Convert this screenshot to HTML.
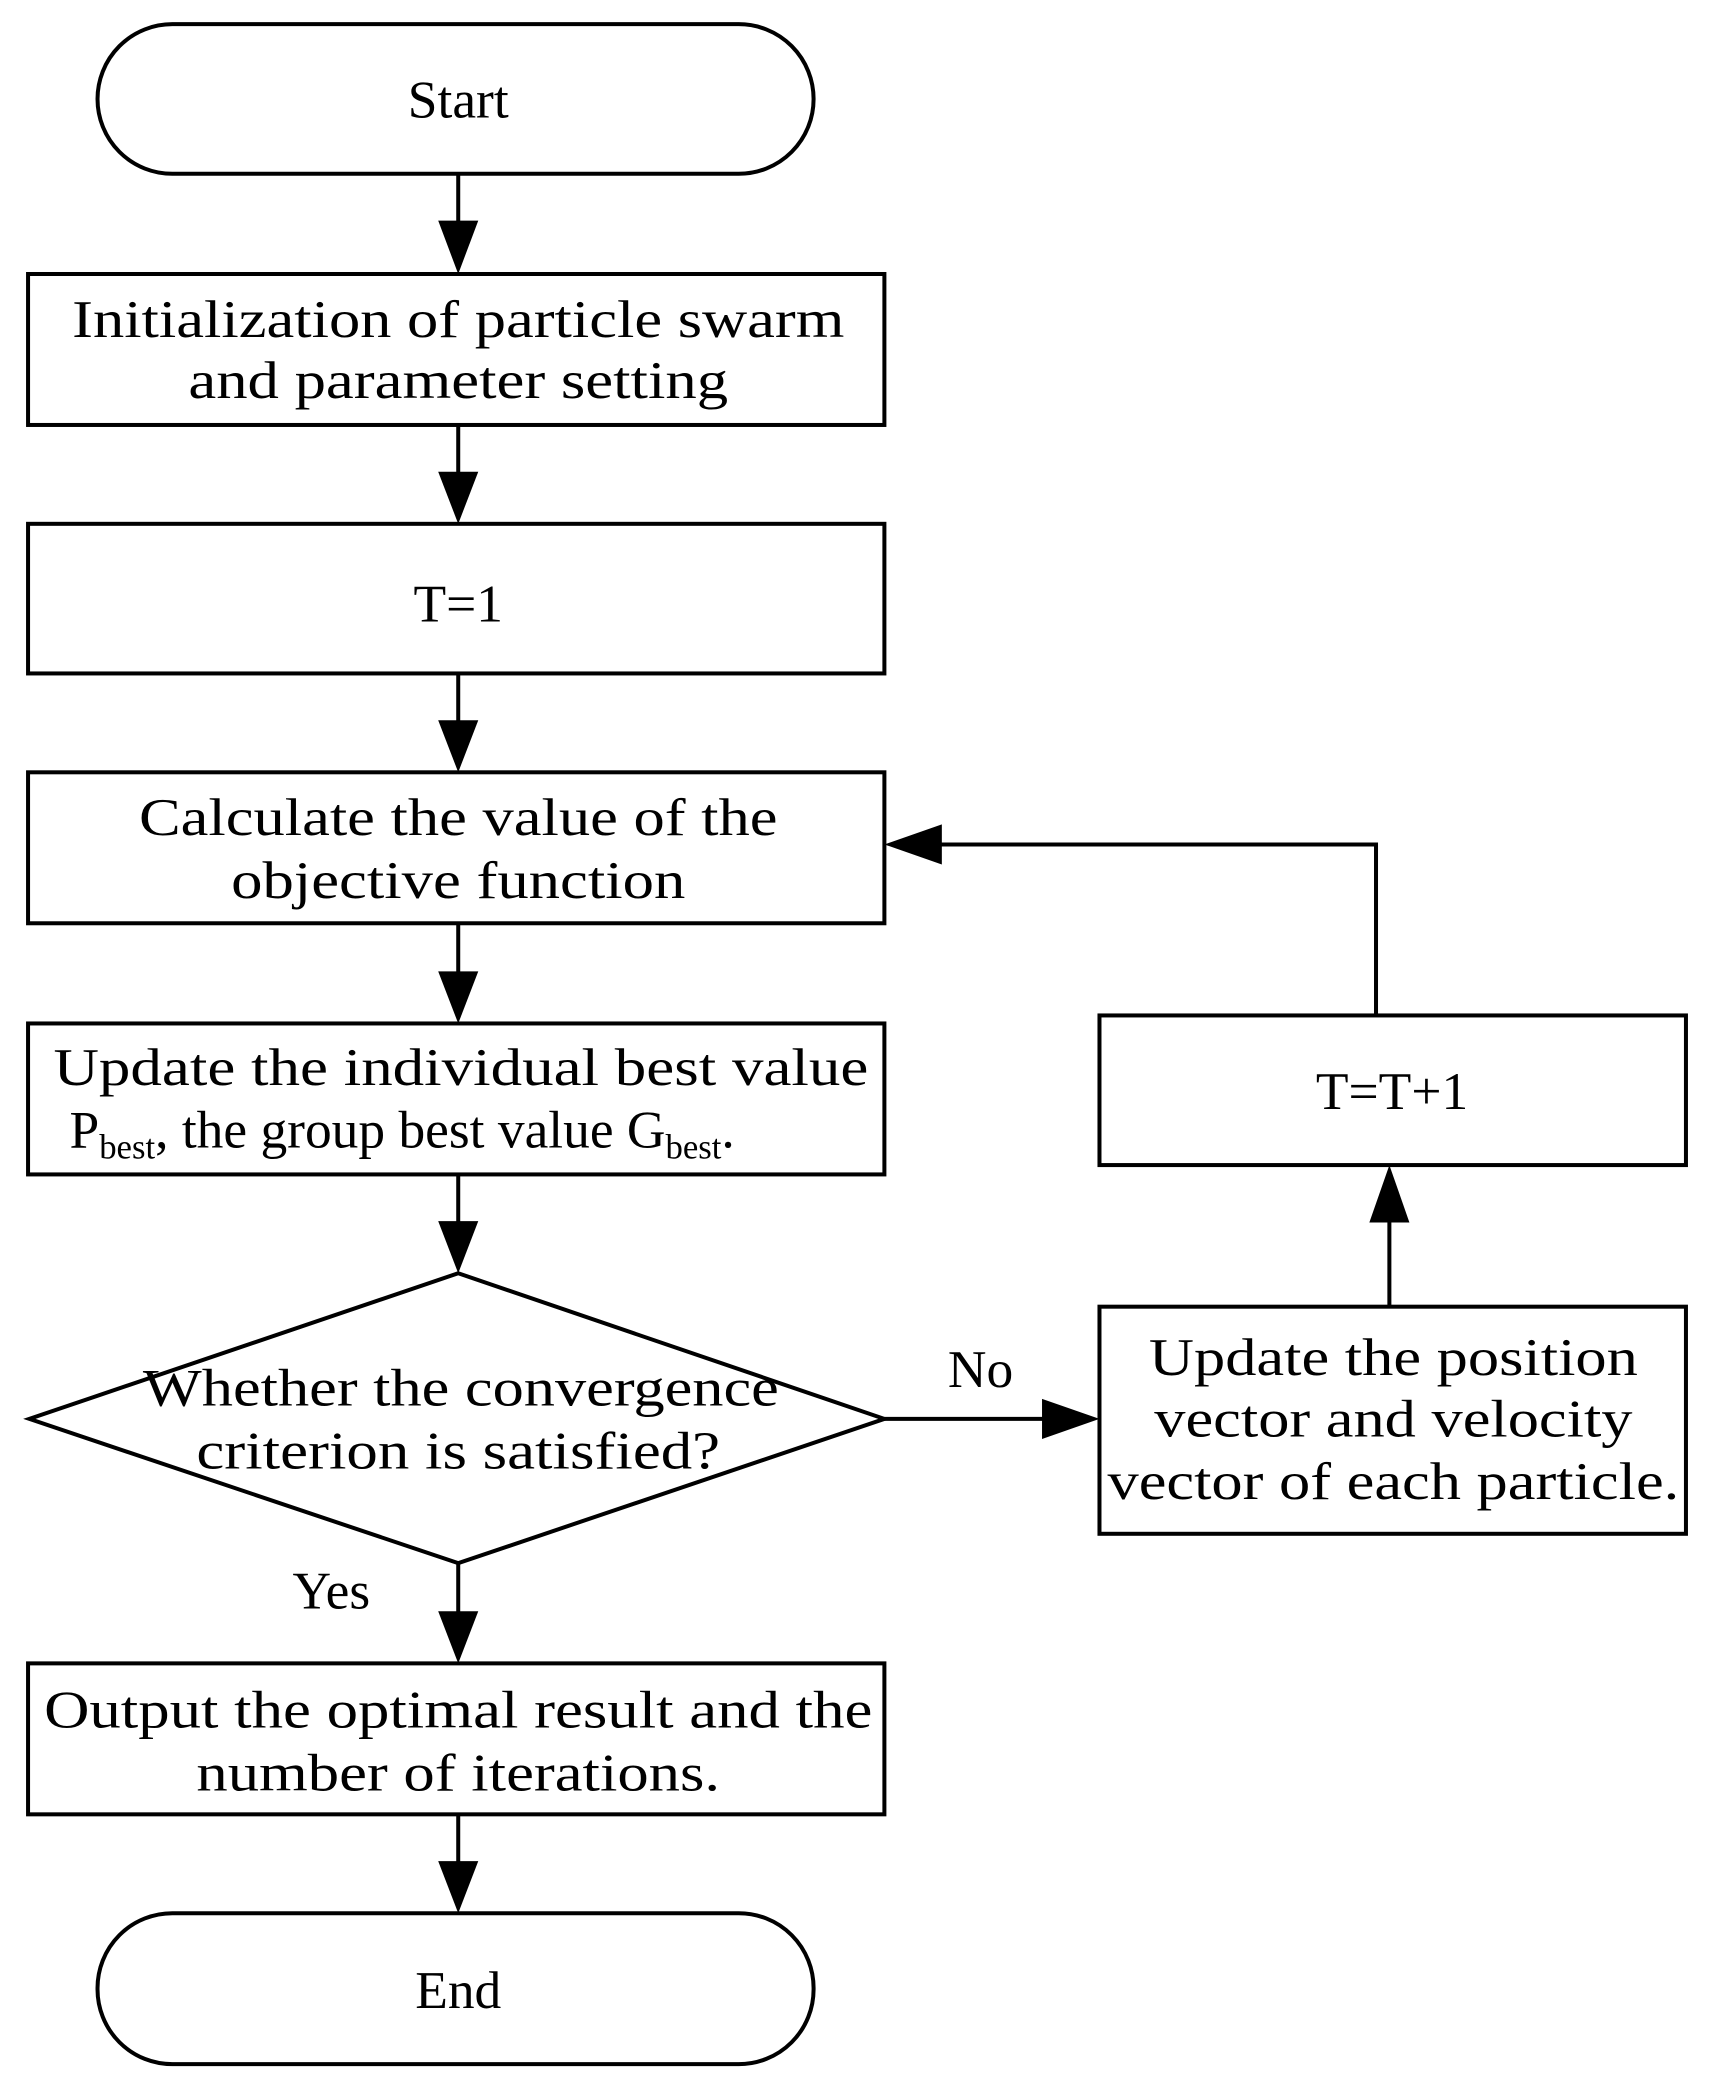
<!DOCTYPE html>
<html><head><meta charset="utf-8"><style>html,body{margin:0;padding:0;background:#fff}svg{display:block}</style></head>
<body>
<svg width="1710" height="2087" viewBox="0 0 1280 1562" xmlns="http://www.w3.org/2000/svg">
<defs><marker id="a" markerWidth="10" markerHeight="10" refX="10" refY="5" orient="auto" markerUnits="userSpaceOnUse" viewBox="0 0 10 10"><path d="M0,0 L10,5 L0,10z" fill="#000"/></marker></defs>
<g fill="none" stroke="#000" stroke-width="3">
<rect x="73" y="18" width="536" height="112" rx="56"/>
<rect x="21" y="205" width="641" height="113"/>
<rect x="21" y="392" width="641" height="112"/>
<rect x="21" y="578" width="641" height="113"/>
<rect x="21" y="766" width="641" height="113"/>
<path d="M343,953 L662,1062 L343,1170 L22,1062 Z"/>
<rect x="21" y="1245" width="641" height="113"/>
<rect x="73" y="1432" width="536" height="113" rx="56"/>
<rect x="823" y="978" width="439" height="170"/>
<rect x="823" y="760" width="439" height="112"/>
<path d="M1030,760 L1030,632 L700,632"/>
</g>
<g fill="#000">
<line x1="343" y1="130" x2="343" y2="168" stroke="#000" stroke-width="3"/><path d="M328,165 L358,165 L343,205z"/>
<line x1="343" y1="318" x2="343" y2="356" stroke="#000" stroke-width="3"/><path d="M328,353 L358,353 L343,392z"/>
<line x1="343" y1="504" x2="343" y2="542" stroke="#000" stroke-width="3"/><path d="M328,539 L358,539 L343,578z"/>
<line x1="343" y1="691" x2="343" y2="730" stroke="#000" stroke-width="3"/><path d="M328,727 L358,727 L343,766z"/>
<line x1="343" y1="879" x2="343" y2="917" stroke="#000" stroke-width="3"/><path d="M328,914 L358,914 L343,953z"/>
<line x1="343" y1="1170" x2="343" y2="1209" stroke="#000" stroke-width="3"/><path d="M328,1206 L358,1206 L343,1245z"/>
<line x1="343" y1="1358" x2="343" y2="1396" stroke="#000" stroke-width="3"/><path d="M328,1393 L358,1393 L343,1432z"/>
<line x1="662" y1="1062" x2="785" y2="1062" stroke="#000" stroke-width="3"/><path d="M780,1047 L780,1077 L823,1062z"/>
<line x1="1040" y1="978" x2="1040" y2="912" stroke="#000" stroke-width="3"/><path d="M1025,915 L1055,915 L1040,872z"/>
<path d="M705,617 L705,647 L662,632z"/>
</g>
<g font-family="Liberation Serif, serif" font-size="40" text-anchor="middle" fill="#000">
<text x="343" y="88">Start</text>
<text x="343" y="252" textLength="578" lengthAdjust="spacingAndGlyphs">Initialization of particle swarm</text>
<text x="343" y="298" textLength="404" lengthAdjust="spacingAndGlyphs">and parameter setting</text>
<text x="343" y="465">T=1</text>
<text x="343" y="625" textLength="478" lengthAdjust="spacingAndGlyphs">Calculate the value of the</text>
<text x="343" y="672" textLength="340" lengthAdjust="spacingAndGlyphs">objective function</text>
<text x="345" y="812" textLength="610" lengthAdjust="spacingAndGlyphs">Update the individual best value</text>
<text x="52" y="859" text-anchor="start">P<tspan font-size="26" dy="8">best</tspan><tspan dy="-8">, the group best value G</tspan><tspan font-size="26" dy="8">best</tspan><tspan dy="-8">.</tspan></text>
<text x="345" y="1052" textLength="476" lengthAdjust="spacingAndGlyphs">Whether the convergence</text>
<text x="343" y="1099" textLength="392" lengthAdjust="spacingAndGlyphs">criterion is satisfied?</text>
<text x="343" y="1293" textLength="620" lengthAdjust="spacingAndGlyphs">Output the optimal result and the</text>
<text x="343" y="1340" textLength="392" lengthAdjust="spacingAndGlyphs">number of iterations.</text>
<text x="343" y="1503">End</text>
<text x="1043" y="1029" textLength="366" lengthAdjust="spacingAndGlyphs">Update the position</text>
<text x="1043" y="1075" textLength="358" lengthAdjust="spacingAndGlyphs">vector and velocity</text>
<text x="1043" y="1122" textLength="428" lengthAdjust="spacingAndGlyphs">vector of each particle.</text>
<text x="1042" y="830">T=T+1</text>
<text x="734" y="1038">No</text>
<text x="248" y="1204">Yes</text>
</g>
</svg>
</body></html>
